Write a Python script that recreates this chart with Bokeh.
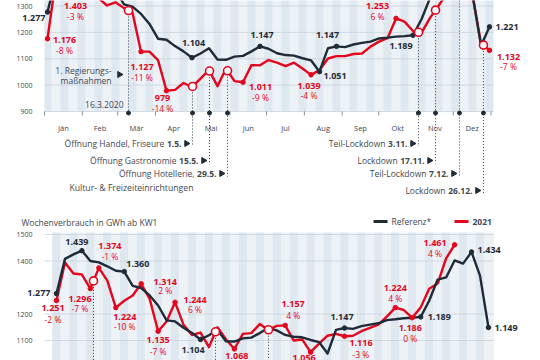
import numpy as np
from bokeh.plotting import figure
from bokeh.layouts import column
from bokeh.models import Range1d
from bokeh.core.properties import value
from bokeh.embed import file_html
from bokeh.resources import INLINE

# ---------------- data ----------------
referenz = [1277, 1408, 1425, 1439, 1400, 1395, 1380, 1363, 1360, 1306,
            1298, 1270, 1232, 1176, 1172, 1148, 1128, 1104, 1120, 1140,
            1097, 1096, 1108, 1111, 1128, 1147, 1138, 1121, 1114, 1112,
            1102, 1094, 1051, 1140, 1147, 1144, 1154, 1160, 1165, 1177,
            1180, 1184, 1186, 1189, 1250, 1330, 1338, 1402, 1390, 1434,
            1345, 1149]
referenz_kw53 = 1221
verbrauch_2020 = [1176, 1403, 1385, 1370, 1360, 1345, 1330, 1302, 1314, 1292,
                  1275, 1127, 1127, 1095, 979, 982, 1008, 993, 1025, 1057,
                  996, 1063, 1015, 1011, 1076, 1075, 1095, 1085, 1072, 1085,
                  1063, 1039, 1057, 1101, 1110, 1110, 1118, 1120, 1146, 1165,
                  1178, 1253, 1241, 1205, 1198, 1255, 1300, 1350, 1380, 1400,
                  1340, 1160, 1132]
verbrauch_2021 = [1251, 1394, 1353, 1349, 1296, 1374, 1326, 1224, 1250, 1270,
                  1314, 1257, 1135, 1172, 1244, 1159, 1121, 1130, 1075, 1150,
                  1105, 1068, 1125, 1128, 1162, 1140, 1155, 1157, 1100, 1104,
                  1056, 1088, 1118, 1125, 1116, 1118, 1135, 1148, 1160, 1190,
                  1224, 1215, 1186, 1225, 1295, 1315, 1410, 1461]

monate = ["Jän", "Feb", "Mär", "Apr", "Mai", "Jun", "Jul", "Aug", "Sep", "Okt", "Nov", "Dez"]
monatsbeginn_tag = [0, 31, 60, 91, 121, 152, 182, 213, 244, 274, 305, 335, 366]

yticks_2020 = [900, 1000, 1100, 1200, 1300]
yticks_2021 = [1100, 1200, 1400, 1500]

ref_labels_2020 = [1, 18, 26, 33, 35, 44, 53]
val_labels_2020 = [1, 2, 12, 15, 24, 32, 42, 53]
val_pct_2020 = ["-8 %", "-3 %", "-11 %", "-14 %", "-9 %", "-4 %", "6 %", "-7 %"]
ref_labels_2021 = [1, 4, 9, 18, 35, 44, 50, 52]
val_labels_2021 = [1, 5, 6, 8, 11, 13, 15, 22, 28, 31, 35, 41, 43, 48]
# percentages below 1.068 and 1.056 lie outside the visible crop
val_pct_2021 = ["-2 %", "-7 %", "-1 %", "-10 %", "2 %", "-7 %", "6 %", "",
                "4 %", "", "-3 %", "4 %", "0 %", "4 %"]

ereignis_kw_2020 = [10.53, 18.06, 20.06, 22.18, 44.65, 46.65, 49.47, 52.29]
ereignis_text_2020 = ["", "Öffnung Handel, Friseure", "Öffnung Gastronomie", "Öffnung Hotellerie,",
                      "Teil-Lockdown", "Lockdown", "Teil-Lockdown", "Lockdown"]
ereignis_datum_2020 = ["16.3.2020", "1.5.", "15.5.", "29.5.", "3.11.", "17.11.", "7.12.", "26.12."]
ereignis_kw_2021 = [5.37, 19.77, 26.03]

# ---------------- style ----------------
FONT = "Open Sans"
DARK = "#1f2c37"
RED = "#e3061c"
GREY = "#3f4850"
STRIPE_A = "#dfe7ef"
STRIPE_B = "#edf2f7"
GRID = "#c9d3dc"
W = 540


def fmt(v):
    return f"{v:,}".replace(",", ".")


def bold_width(s, size):
    return sum(0.572 if c.isdigit() else 0.29 for c in s) * size


class Panel:
    def __init__(self, week1_px, px_week, yval, ypx, px_unit, top, bottom):
        self.w1, self.pw, self.yv, self.ypx, self.pu = week1_px, px_week, yval, ypx, px_unit
        self.p = figure(width=W, height=bottom - top,
                        x_range=Range1d(self.X(0), self.X(W)),
                        y_range=Range1d(self.Y(bottom), self.Y(top)),
                        output_backend="svg", toolbar_location=None,
                        x_axis_location=None, y_axis_location=None,
                        min_border=0, title=None)
        self.p.outline_line_color = None
        self.p.grid.visible = False
        self.p.background_fill_color = "white"
        self.p.border_fill_color = "white"

    def X(self, px):
        return 1 + (px - self.w1) / self.pw

    def Y(self, py):
        return self.yv + (self.ypx - py) / self.pu

    def ox(self, d):
        return d / self.pw

    def oy(self, d):
        return -d / self.pu

    def text(self, xs, ys, texts, size, bold=False, color=GREY, align="center"):
        self.p.text(x=list(xs), y=list(ys), text=list(texts), text_font=value(FONT),
                    text_font_size=f"{size}px", text_font_style="bold" if bold else "normal",
                    text_color=color, text_align=align, text_baseline="middle")

    def background(self, nweeks, ybottom, ytop):
        ws = np.arange(1, nweeks + 1)
        left = np.maximum(ws - 0.5, self.X(44))
        right = np.minimum(ws + 0.5, self.X(493))
        cols = [STRIPE_A if w % 2 else STRIPE_B for w in ws]
        self.p.quad(left=left, right=right, bottom=ybottom, top=ytop, fill_color=cols, line_color=None)

    def grid(self, ticks):
        self.p.segment(x0=self.X(44), x1=self.X(493), y0=ticks, y1=ticks, line_color=GRID, line_width=0.8)
        self.text([self.X(32)] * len(ticks), ticks, [str(t) for t in ticks], 7, color=GREY, align="right")


# ================= top panel (2020) =================
top = Panel(47, 8.5, 900, 111, 0.2637, 0, 206)
p1 = top.p
weeks53 = np.arange(1, 54)
ref53 = referenz + [referenz_kw53]

top.background(53, 900, top.Y(-20))
top.grid(yticks_2020)

# month ticks and labels
day_px = lambda d: 44 + d * 1.22
mt = [top.X(day_px(d)) for d in monatsbeginn_tag]
p1.segment(x0=mt, x1=mt, y0=900, y1=900 + top.oy(4), line_color="#6a737b", line_width=0.8)
mid = [top.X(day_px((a + b) / 2)) for a, b in zip(monatsbeginn_tag[:-1], monatsbeginn_tag[1:])]
top.text(mid, [900 + top.oy(16)] * 12, monate, 7.5, color=GREY)

# event lines
ev_y = np.interp(ereignis_kw_2020, weeks53, verbrauch_2020)
rows = [0, 32, 49, 62, 32, 49, 62, 79]
for i, (ev, yv) in enumerate(zip(ereignis_kw_2020, ev_y)):
    yend = 900 + top.oy(rows[i] + 3 if rows[i] else 1)
    p1.line([ev, ev], [yv, yend], line_color="#333a40", line_width=1, line_dash="1 2")
p1.scatter(ereignis_kw_2020, [900 + top.oy(1.5)] * 8, size=4, color=DARK)

# event annotations
for i, ev in enumerate(ereignis_kw_2020):
    if i == 0:
        continue
    yrow = 900 + top.oy(rows[i])
    p1.scatter([ev + top.ox(-6)], [yrow], marker="triangle", angle=-np.pi / 2, size=6, color=DARK)
    d = ereignis_datum_2020[i]
    top.text([ev + top.ox(-11)], [yrow], [d], 8.5, bold=True, color=GREY, align="right")
    bw = bold_width(d, 8.5)
    top.text([ev + top.ox(-11 - bw - 2.5)], [yrow], [ereignis_text_2020[i]], 8.5, color=GREY, align="right")
top.text([ereignis_kw_2020[3] + top.ox(-34)], [900 + top.oy(76)], ["Kultur- & Freizeiteinrichtungen"], 8.7,
         color=GREY, align="right")
e0 = ereignis_kw_2020[0]
top.text([e0 + top.ox(-17)] * 2, [top.Y(70), top.Y(80)], ["1. Regierungs-", "maßnahmen"], 8.5, color=GREY, align="right")
p1.scatter([e0 + top.ox(-9)], [top.Y(74)], marker="triangle", angle=-np.pi / 2, size=6, color=DARK)
top.text([e0 + top.ox(-5)], [top.Y(104)], [ereignis_datum_2020[0]], 8.5, color=GREY, align="right")

# lines
p1.line(weeks53, verbrauch_2020, line_color=RED, line_width=2.4, line_join="round")
p1.line(weeks53, ref53, line_color=DARK, line_width=2.4, line_join="round")

# labelled points
p1.scatter(ref_labels_2020, [ref53[w - 1] for w in ref_labels_2020], size=4.5, color=DARK)
p1.scatter(val_labels_2020, [verbrauch_2020[w - 1] for w in val_labels_2020], size=4.5, color=RED)
p1.scatter(ereignis_kw_2020, ev_y, size=8, fill_color="white", line_color=RED, line_width=1.6)

ref_off_2020 = [(-2, 6, "right"), (1.5, -15, "center"), (2, -11, "center"), (4, 4, "left"),
                (-9, -11, "center"), (-12, 11, "center"), (6, 0, "left")]
for w, (dx, dy, al) in zip(ref_labels_2020, ref_off_2020):
    top.text([w + top.ox(dx)], [ref53[w - 1] + top.oy(dy)], [fmt(ref53[w - 1])], 9, bold=True, color=DARK, align=al)

val_off_2020 = [(17, 1.5, 11.5), (19.5, 27, 37.5), (1, 15, 26), (-4, 7, 18), (17.5, 5, 15),
                (-2, 11.6, 21), (-18.5, -12, -1.5), (19, 6.5, 16.5)]
for w, pct, (dx, dv, dp) in zip(val_labels_2020, val_pct_2020, val_off_2020):
    v = verbrauch_2020[w - 1]
    top.text([w + top.ox(dx)], [v + top.oy(dv)], [fmt(v)], 9, bold=True, color=RED)
    top.text([w + top.ox(dx)], [v + top.oy(dp)], [pct], 8.5, color=RED)

# ================= bottom panel (2021) =================
bot = Panel(56, 8.47, 1500, 234, 0.265, 206, 360)
p2 = bot.p
weeks52 = np.arange(1, 53)
weeks48 = np.arange(1, len(verbrauch_2021) + 1)

bot.background(53, bot.Y(400), bot.Y(232))
bot.grid(yticks_2021)

ev2_y = np.interp(ereignis_kw_2021, weeks48, verbrauch_2021)
for ev, yv in zip(ereignis_kw_2021, ev2_y):
    p2.line([ev, ev], [yv, bot.Y(400)], line_color="#333a40", line_width=1, line_dash="1 2")

p2.line(weeks48, verbrauch_2021, line_color=RED, line_width=2.4, line_join="round")
p2.line(weeks52, referenz, line_color=DARK, line_width=2.4, line_join="round")

p2.scatter(ref_labels_2021, [referenz[w - 1] for w in ref_labels_2021], size=4.5, color=DARK)
p2.scatter(val_labels_2021, [verbrauch_2021[w - 1] for w in val_labels_2021], size=4.5, color=RED)
p2.scatter(ereignis_kw_2021, ev2_y, size=8, fill_color="white", line_color=RED, line_width=1.6)

ref_off_2021 = [(-6, -1, "right"), (-5, -9, "center"), (2, -8, "left"), (-7.5, 11, "center"),
                (-2.5, -11.5, "center"), (7, 0.5, "left"), (6, -1.5, "left"), (6, 0, "left")]
for w, (dx, dy, al) in zip(ref_labels_2021, ref_off_2021):
    bot.text([w + bot.ox(dx)], [referenz[w - 1] + bot.oy(dy)], [fmt(referenz[w - 1])], 9, bold=True,
             color=DARK, align=al)

val_off_2021 = [(-3.5, 8, 19), (-10.4, 10, 20), (11, -22, -11), (9, 9, 19), (24, -2, 7), (0, 9, 20),
                (20, -2, 7), (2.5, 7, 19), (8, -21, -10), (-6.5, 5.5, 18), (16.5, 7, 18),
                (0, -20, -9), (-2, 10, 21), (-19.5, -2, 9)]
for w, pct, (dx, dv, dp) in zip(val_labels_2021, val_pct_2021, val_off_2021):
    v = verbrauch_2021[w - 1]
    bot.text([w + bot.ox(dx)], [v + bot.oy(dv)], [fmt(v)], 9, bold=True, color=RED)
    if pct:
        bot.text([w + bot.ox(dx)], [v + bot.oy(dp)], [pct], 8.5, color=RED)

# title and legend
bot.text([bot.X(21)], [bot.Y(222)], ["Wochenverbrauch in GWh ab KW1"], 8.5, color=GREY, align="left")
p2.segment(x0=[bot.X(373)], x1=[bot.X(387)], y0=[bot.Y(221)], y1=[bot.Y(221)], line_color=DARK, line_width=3)
bot.text([bot.X(391)], [bot.Y(221)], ["Referenz*"], 8.5, color=GREY, align="left")
p2.segment(x0=[bot.X(454)], x1=[bot.X(468)], y0=[bot.Y(221)], y1=[bot.Y(221)], line_color=RED, line_width=3)
bot.text([bot.X(472)], [bot.Y(221)], ["2021"], 8.5, bold=True, color=GREY, align="left")

layout = column(p1, p2, spacing=0)
open("out.html", "w").write(file_html(layout, INLINE))
